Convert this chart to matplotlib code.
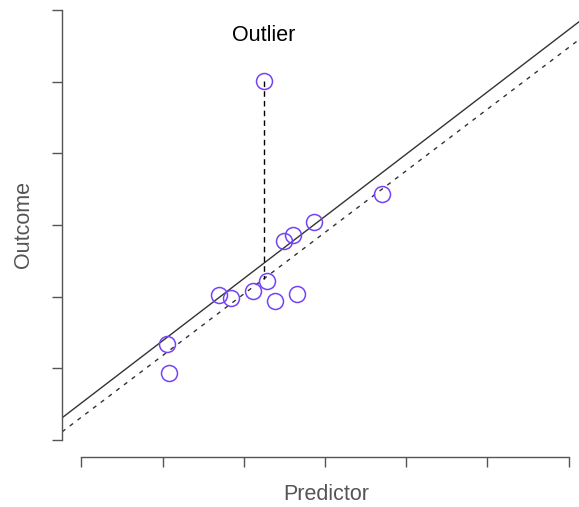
import matplotlib
matplotlib.use("Agg")
import matplotlib.pyplot as plt
import numpy as np

# Data
pred = [1.05, 1.08, 1.69, 1.84, 2.11, 2.28, 2.39, 2.65, 2.50, 2.60, 2.87, 3.70]
outc = [1.34, 0.94, 2.02, 1.98, 2.08, 2.22, 1.94, 2.03, 2.78, 2.86, 3.04, 3.43]
outlier_x = 2.25
outlier_y = 5.01
fit_all = (0.515, 0.8685)      # intercept, slope with outlier (solid)
fit_clean = (0.317, 0.860)     # intercept, slope without outlier (dashed)
ticks = [0, 1, 2, 3, 4, 5, 6]

W, H = 579, 507
fig = plt.figure(figsize=(W / 100, H / 100), dpi=100)
left, right, bottom, top = 62, 588, 457, -7
ax = fig.add_axes([left / W, (H - bottom) / H, (right - left) / W, (bottom - top) / H])
ax.set_xlim(-0.24, 6.24)
ax.set_ylim(-0.24, 6.24)
ax.patch.set_alpha(0)

pt_col = "#7444F4"
axcol = "#555555"

xs = np.array(ax.get_xlim())
ax.plot(xs, fit_all[0] + fit_all[1] * xs, color="#333333", lw=1.0)
ax.plot(xs, fit_clean[0] + fit_clean[1] * xs, color="#333333", lw=1.0,
        ls=(0, (3, 4)))
ax.plot([outlier_x, outlier_x],
        [outlier_y, fit_clean[0] + fit_clean[1] * outlier_x],
        color="black", lw=1.0, ls=(0, (4, 3)))
ax.plot(pred + [outlier_x], outc + [outlier_y], ls="none", marker="o",
        ms=11.5, mfc="none", mec=pt_col, mew=1.1)

ax.text(outlier_x, 5.64, "Outlier", ha="center", va="center",
        fontsize=15.5, family="Liberation Sans", color="black")

for s in ["top", "right"]:
    ax.spines[s].set_visible(False)
ax.spines["left"].set_bounds(0, 6)
ax.spines["bottom"].set_bounds(0, 6)
for s in ["left", "bottom"]:
    ax.spines[s].set_color(axcol)
    ax.spines[s].set_linewidth(1.0)
    ax.spines[s].set_clip_on(False)
ax.set_xticks(ticks)
ax.set_yticks(ticks)
ax.tick_params(axis="both", length=7.2, width=1.0, color=axcol,
               labelbottom=False, labelleft=False, direction="out")

fig.text(326 / W, 1 - 495 / H, "Predictor", ha="center", va="center",
         fontsize=15.5, family="Liberation Sans", color=axcol)
fig.text(23 / W, 1 - 224 / H, "Outcome", ha="center", va="center",
         rotation=90, fontsize=15.5, family="Liberation Sans", color=axcol)

fig.savefig("out.png", dpi=100)
